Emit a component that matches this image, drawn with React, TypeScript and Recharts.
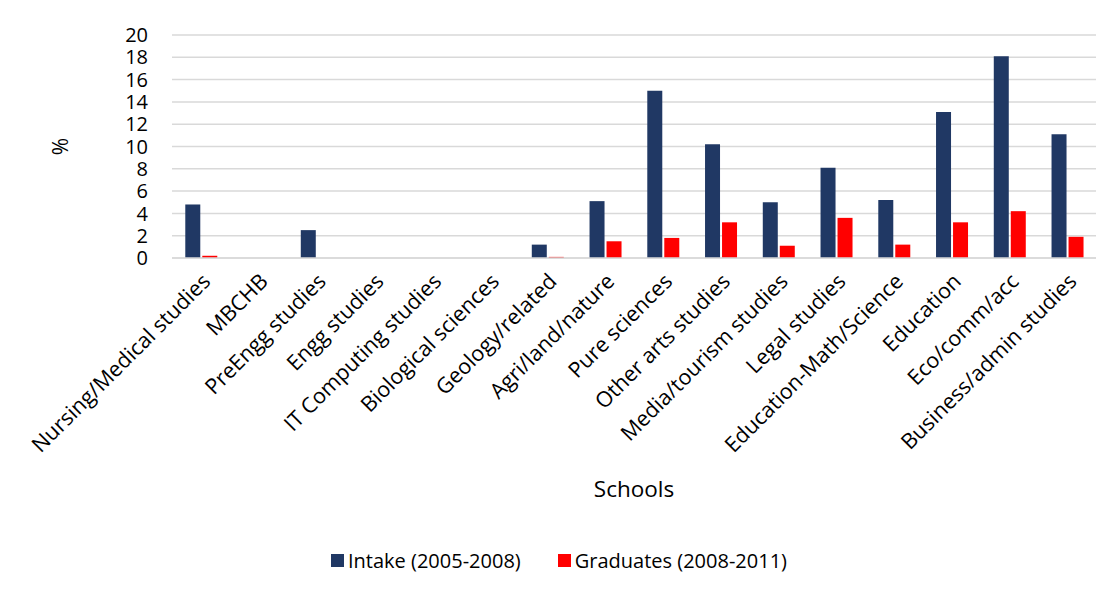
import React from 'react';
import { BarChart, Bar, XAxis, YAxis, CartesianGrid, Legend, Label } from 'recharts';

const categories = [
  'Nursing/Medical studies',
  'MBCHB',
  'PreEngg studies',
  'Engg studies',
  'IT Computing studies',
  'Biological sciences',
  'Geology/related',
  'Agri/land/nature',
  'Pure sciences',
  'Other arts studies',
  'Media/tourism studies',
  'Legal studies',
  'Education-Math/Science',
  'Education',
  'Eco/comm/acc',
  'Business/admin studies',
];

const intake = [4.8, 0, 2.5, 0, 0, 0, 1.2, 5.1, 15.0, 10.2, 5.0, 8.1, 5.2, 13.1, 18.1, 11.1];
const graduates = [0.2, 0, 0, 0, 0, 0, 0.1, 1.5, 1.8, 3.2, 1.1, 3.6, 1.2, 3.2, 4.2, 1.9];

const yTicks = [0, 2, 4, 6, 8, 10, 12, 14, 16, 18, 20];

const seriesNames = ['Intake (2005-2008)', 'Graduates (2008-2011)'];
const NAVY = '#203864';
const RED = '#ff0000';
const FONT = '"Open Sans", sans-serif';

const data = categories.map((name, i) => ({
  name,
  intake: intake[i],
  graduates: graduates[i],
}));

function LegendContent() {
  const items = [
    { label: seriesNames[0], color: NAVY },
    { label: seriesNames[1], color: RED },
  ];
  return (
    <div style={{ display: 'flex', justifyContent: 'center', fontFamily: FONT, fontSize: 20, color: '#000' }}>
      {items.map((it, i) => (
        <div key={it.label} style={{ display: 'flex', alignItems: 'center', marginLeft: i ? 37 : 0 }}>
          <span style={{ width: 13, height: 13, background: it.color, display: 'inline-block', marginRight: 4 }} />
          <span>{it.label}</span>
        </div>
      ))}
    </div>
  );
}

export default function App() {
  return (
    <div
      style={{
        marginLeft: -1,
        marginTop: -2,
        width: 1108,
        height: 590,
        borderLeft: '1px solid #d9d9d9',
        borderTop: '1px solid #d9d9d9',
        overflow: 'hidden',
      }}
    >
      <BarChart
        width={1107}
        height={586}
        data={data}
        margin={{ top: 28, right: 19, left: 0, bottom: 20 }}
        barCategoryGap="23%"
        barGap={2}
      >
        <CartesianGrid vertical={false} stroke="#d9d9d9" strokeWidth={1.5} />
        <XAxis
          dataKey="name"
          interval={0}
          height={289}
          axisLine={{ stroke: '#d9d9d9', strokeWidth: 1.5 }}
          tickLine={false}
          tickSize={0}
          tickMargin={14}
          angle={-45}
          textAnchor="end"
          tick={{ fill: '#000', fontSize: 21.5, fontFamily: FONT }}
        >
          <Label
            content={({ viewBox }: any) => (
              <text
                x={viewBox.x + viewBox.width / 2}
                y={viewBox.y + 239}
                textAnchor="middle"
                fontFamily={FONT}
                fontSize={22.5}
                fill="#000"
              >
                Schools
              </text>
            )}
          />
        </XAxis>
        <YAxis
          width={164}
          domain={[0, 20]}
          ticks={yTicks}
          interval={0}
          axisLine={false}
          tickLine={false}
          tickSize={0}
          tickMargin={24}
          tick={{ fill: '#000', fontSize: 20, fontFamily: FONT }}
        >
          <Label
            content={({ viewBox }: any) => {
              const cx = 52;
              const cy = viewBox.y + viewBox.height / 2;
              return (
                <text
                  x={cx}
                  y={cy}
                  transform={`rotate(-90, ${cx}, ${cy})`}
                  textAnchor="middle"
                  dominantBaseline="central"
                  fontFamily={FONT}
                  fontSize={21}
                  fill="#000"
                >
                  %
                </text>
              );
            }}
          />
        </YAxis>
        <Legend
          verticalAlign="bottom"
          height={26}
          wrapperStyle={{ left: 7, width: 1088 }}
          content={<LegendContent />}
        />
        <Bar dataKey="intake" name={seriesNames[0]} fill={NAVY} isAnimationActive={false} />
        <Bar dataKey="graduates" name={seriesNames[1]} fill={RED} isAnimationActive={false} />
      </BarChart>
    </div>
  );
}
